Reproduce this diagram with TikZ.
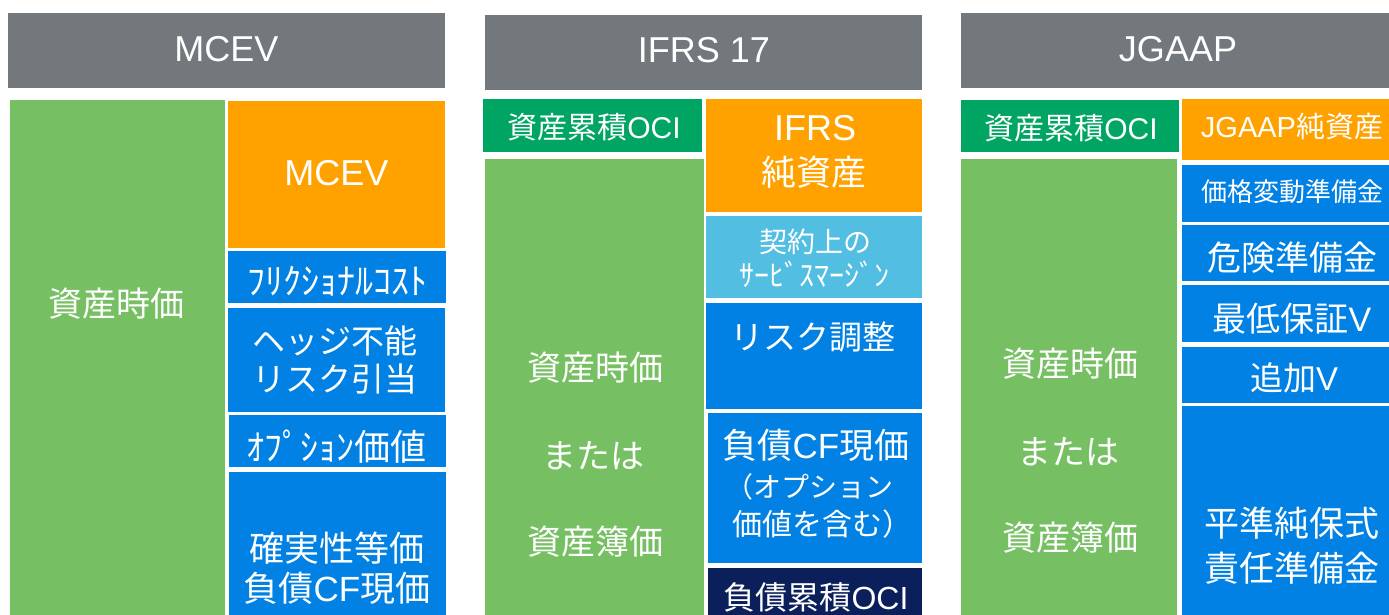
\documentclass[tikz,border=0pt]{standalone}
\usepackage{fontspec}
\setmainfont{Liberation Sans}
\newfontfamily\jpf{Noto Sans CJK JP}
\newcommand\lat[1]{{\rmfamily #1}}
\definecolor{hdrc}{HTML}{72787B}
\definecolor{grnc}{HTML}{76BF62}
\definecolor{orgc}{HTML}{FFA200}
\definecolor{bluc}{HTML}{0081E3}
\definecolor{lbluc}{HTML}{52BEE2}
\definecolor{dgrnc}{HTML}{00A563}
\definecolor{navyc}{HTML}{0B1F5B}
\tikzset{
  lbl/.style={text=white, inner sep=0pt, anchor=base, font=\fontsize{#1}{#1}\selectfont\jpf},
  ltx/.style={text=white, inner sep=0pt, anchor=base, font=\fontsize{#1}{#1}\selectfont},
}
\begin{document}
\begin{tikzpicture}[x=1pt,y=-1pt]
\useasboundingbox (0,0) rectangle (1389,615);
% ---------- MCEV column ----------
\fill[hdrc] (8,13) rectangle (445,88);
\fill[grnc] (10,100) rectangle (225,615);
\fill[orgc] (228,101) rectangle (445,248);
\fill[bluc] (228,251) rectangle (446,303);
\fill[bluc] (228,308) rectangle (445,412);
\fill[bluc] (229,415) rectangle (446,467);
\fill[bluc] (229,472) rectangle (446,615);
\node[ltx=36] (hMCEV) at (226.5,62) {MCEV};
\node[ltx=36] (mcevEq) at (336.5,185) {MCEV};
\node[lbl=34] (mcevAs) at (116,316) {資産時価};
\node[lbl=36] (mcevFr) at (337.5,294.5) {ﾌﾘｸｼｮﾅﾙｺｽﾄ};
\node[lbl=33] (mcevH1) at (335,353.5) {ヘッジ不能};
\node[lbl=33] (mcevH2) at (335,391.5) {リスク引当};
\node[lbl=36] (mcevOp) at (336,460) {ｵﾌﾟｼｮﾝ価値};
\node[lbl=35] (mcevC1) at (337,561) {確実性等価};
\node[lbl=35] (mcevC2) at (337,601) {負債\lat{CF}現価};
% ---------- IFRS 17 column ----------
\fill[hdrc] (485,15) rectangle (922,90);
\fill[dgrnc] (483,99) rectangle (702,152);
\fill[grnc] (485,159) rectangle (704,615);
\fill[orgc] (706,99) rectangle (922,212);
\fill[lbluc] (706,216) rectangle (922,298);
\fill[bluc] (706,303) rectangle (922,409);
\fill[bluc] (708,413) rectangle (922,563);
\fill[navyc] (708,568) rectangle (922,615);
\node[ltx=36] (hIFRS) at (704,62.5) {IFRS 17};
\node[lbl=30] (ifOCI) at (594,139) {資産累積\lat{OCI}};
\node[ltx=36] (ifNa1) at (815,141) {IFRS};
\node[lbl=35] (ifNa2) at (814,185) {純資産};
\node[lbl=28] (ifCs1) at (815,252.5) {契約上の};
\node[lbl=30] (ifCs2) at (814,286) {ｻｰﾋﾞｽﾏｰｼﾞﾝ};
\node[lbl=34] (ifAs1) at (595,380) {資産時価};
\node[lbl=34] (ifAs2) at (593,468) {または};
\node[lbl=34] (ifAs3) at (595,554) {資産簿価};
\node[lbl=33] (ifRA) at (813,349.5) {リスク調整};
\node[lbl=35] (ifPV1) at (816,458) {負債\lat{CF}現価};
\node[lbl=28] (ifPV2) at (809,497.5) {（オプション};
\node[lbl=30] (ifPV3) at (822,535) {価値を含む）};
\node[lbl=32] (ifLOCI) at (816,609) {負債累積\lat{OCI}};
% ---------- JGAAP column ----------
\fill[hdrc] (961,13) rectangle (1389,88);
\fill[dgrnc] (961,100) rectangle (1179,152);
\fill[grnc] (961,159) rectangle (1177,615);
\fill[orgc] (1182,99) rectangle (1389,160);
\fill[bluc] (1182,165) rectangle (1389,222);
\fill[bluc] (1182,225) rectangle (1389,281);
\fill[bluc] (1182,285) rectangle (1389,342);
\fill[bluc] (1182,347) rectangle (1389,403);
\fill[bluc] (1182,406) rectangle (1389,615);
\node[ltx=36] (hJG) at (1178,62) {JGAAP};
\node[lbl=30] (jgOCI) at (1071,139.5) {資産累積\lat{OCI}};
\node[lbl=29] (jgNA) at (1292,138) {\lat{JGAAP}純資産};
\node[lbl=26] (jgPF) at (1292,201) {価格変動準備金};
\node[lbl=34] (jgRR) at (1292,270) {危険準備金};
\node[lbl=34] (jgMG) at (1292,331) {最低保証\lat{V}};
\node[lbl=33] (jgAV) at (1294,390.5) {追加\lat{V}};
\node[lbl=35] (jgLR1) at (1292,536) {平準純保式};
\node[lbl=35] (jgLR2) at (1292,581) {責任準備金};
\node[lbl=34] (jgAs1) at (1070,376) {資産時価};
\node[lbl=34] (jgAs2) at (1068,464) {または};
\node[lbl=34] (jgAs3) at (1070,550) {資産簿価};
\end{tikzpicture}
\end{document}
